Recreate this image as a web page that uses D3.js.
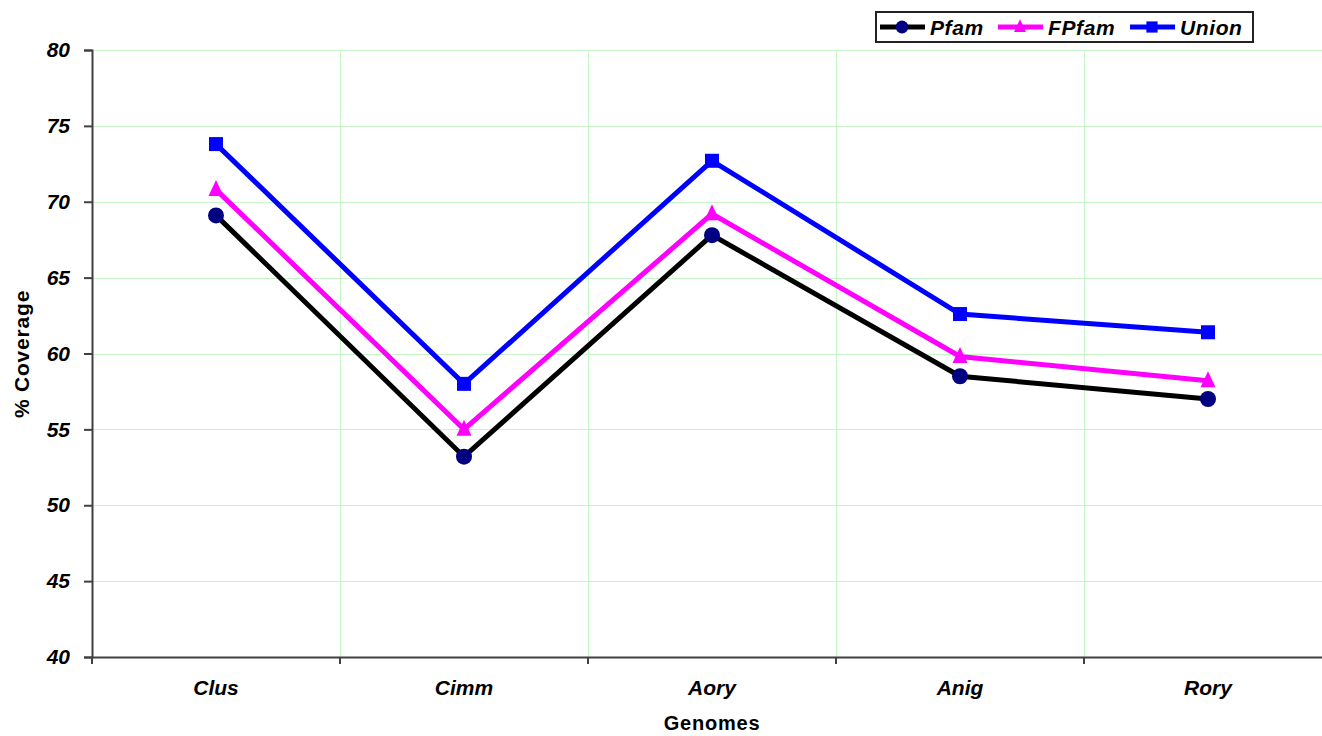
<!DOCTYPE html>
<html>
<head>
<meta charset="utf-8">
<script src="https://cdn.jsdelivr.net/npm/d3@7"></script>
<style>
  body { margin: 0; background: #fff; }
  svg { display: block; }
  text { font-family: "Liberation Sans", Arial, sans-serif; }
</style>
</head>
<body>
<svg id="chart" width="1322" height="736"></svg>
<script>
const categories = ["Clus", "Cimm", "Aory", "Anig", "Rory"];
const pfam  = [69.1, 53.2, 67.8, 58.5, 57.0];
const fpfam = [70.8, 55.0, 69.2, 59.8, 58.2];
const union = [73.8, 58.0, 72.7, 62.6, 61.4];
const yTicks = [40, 45, 50, 55, 60, 65, 70, 75, 80];
const seriesNames = ["Pfam", "FPfam", "Union"];

(function () {
const svg = d3.select("#chart");
const mLeft = 92, mRight = 1332, mTop = 50, mBottom = 657;

const x = d3.scaleBand().domain(categories).range([mLeft, mRight]).padding(0);
const y = d3.scaleLinear().domain([40, 80]).range([mBottom, mTop]);

// gridlines
const grid = svg.append("g");
grid.selectAll("line.h").data(yTicks.filter(t => t > 40)).join("line")
  .attr("x1", mLeft).attr("x2", mRight)
  .attr("y1", d => Math.round(y(d)) + 0.5).attr("y2", d => Math.round(y(d)) + 0.5)
  .attr("stroke", "#c8f5c8").attr("stroke-width", 1);
grid.selectAll("line.v").data(categories.slice(1)).join("line")
  .attr("x1", d => Math.round(x(d)) + 0.5).attr("x2", d => Math.round(x(d)) + 0.5)
  .attr("y1", mTop).attr("y2", mBottom)
  .attr("stroke", "#c8f5c8").attr("stroke-width", 1);

// y axis
const yAxis = svg.append("g").attr("transform", `translate(${mLeft},0)`)
  .call(d3.axisLeft(y).tickValues(yTicks).tickSize(8).tickPadding(14));
yAxis.select(".domain").attr("stroke", "#404040").attr("stroke-width", 2);
yAxis.selectAll(".tick line").attr("stroke", "#404040").attr("stroke-width", 2);
yAxis.selectAll(".tick text").attr("font-size", 21).attr("font-weight", "bold")
  .attr("font-style", "italic").attr("fill", "#000");

// x axis
const xAxis = svg.append("g").attr("transform", `translate(0,${mBottom})`)
  .call(d3.axisBottom(x).tickSize(0).tickPadding(23));
xAxis.select(".domain").attr("stroke", "#404040").attr("stroke-width", 2);
xAxis.selectAll(".tick text").attr("font-size", 21).attr("font-weight", "bold")
  .attr("font-style", "italic").attr("fill", "#000");
svg.append("g").selectAll("line").data(categories).join("line")
  .attr("x1", d => x(d)).attr("x2", d => x(d))
  .attr("y1", mBottom).attr("y2", mBottom + 7)
  .attr("stroke", "#404040").attr("stroke-width", 2);

// axis titles
svg.append("text").attr("x", 712).attr("y", 730).attr("text-anchor", "middle")
  .attr("font-size", 20).attr("font-weight", "bold").attr("letter-spacing", 0.8).text("Genomes");
svg.append("text").attr("transform", "translate(29,354) rotate(-90)")
  .attr("text-anchor", "middle").attr("font-size", 21).attr("font-weight", "bold")
  .attr("letter-spacing", 0.8).text("% Coverage");

const cx = d => x(d) + x.bandwidth() / 2;
const line = d3.line().x(d => cx(d.c)).y(d => y(d.v));

const series = [
  { name: seriesNames[0], values: pfam,  color: "#000000", marker: "circle",   mColor: "#000080" },
  { name: seriesNames[1], values: fpfam, color: "#ff00ff", marker: "triangle", mColor: "#ff00ff" },
  { name: seriesNames[2], values: union, color: "#0000ff", marker: "square",   mColor: "#0000ff" }
];

function drawMarker(g, type, color, px, py, s) {
  if (type === "circle") {
    g.append("circle").attr("cx", px).attr("cy", py).attr("r", 8 * s).attr("fill", color);
  } else if (type === "triangle") {
    const h = 16 * s, w = 15 * s;
    g.append("path").attr("d", `M${px},${py - h * 0.6}L${px + w / 2},${py + h * 0.4}L${px - w / 2},${py + h * 0.4}Z`)
      .attr("fill", color);
  } else {
    const w = 14 * s;
    g.append("rect").attr("x", px - w / 2).attr("y", py - w / 2).attr("width", w).attr("height", w)
      .attr("fill", color);
  }
}

series.forEach(s => {
  const pts = categories.map((c, i) => ({ c, v: s.values[i] }));
  svg.append("path").datum(pts).attr("d", line).attr("fill", "none")
    .attr("stroke", s.color).attr("stroke-width", 5).attr("stroke-linejoin", "miter");
  const g = svg.append("g");
  pts.forEach(p => drawMarker(g, s.marker, s.mColor, cx(p.c), y(p.v), 1));
});

// legend
const lg = svg.append("g");
lg.append("rect").attr("x", 876).attr("y", 12).attr("width", 377).attr("height", 30)
  .attr("fill", "#fff").attr("stroke", "#222").attr("stroke-width", 2);
const legendPos = [880, 998, 1130];
series.forEach((s, i) => {
  const lx = legendPos[i];
  lg.append("line").attr("x1", lx).attr("x2", lx + 45).attr("y1", 27).attr("y2", 27)
    .attr("stroke", s.color).attr("stroke-width", 5);
  drawMarker(lg, s.marker, s.mColor, lx + 22, 27, 0.8);
  lg.append("text").attr("x", lx + 50).attr("y", 35).attr("font-size", 21)
    .attr("font-weight", "bold").attr("font-style", "italic").attr("letter-spacing", 0.6).text(s.name);
});
})();
</script>
</body>
</html>
